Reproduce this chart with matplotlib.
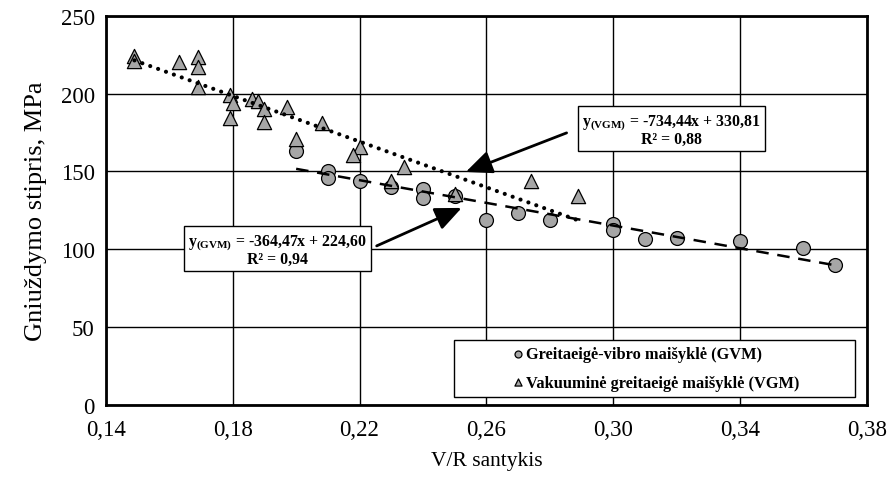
import matplotlib
matplotlib.use("Agg")
import matplotlib.pyplot as plt
from matplotlib.patches import Rectangle
import numpy as np

plt.rcParams['font.family'] = ['Liberation Serif', 'DejaVu Serif']
plt.rcParams['mathtext.fontset'] = 'custom'
plt.rcParams['mathtext.rm'] = 'Liberation Serif'
plt.rcParams['mathtext.bf'] = 'Liberation Serif:bold'
plt.rcParams['mathtext.it'] = 'Liberation Serif:italic'

# GVM data (circles)
gvm_x = [0.200, 0.210, 0.210, 0.220, 0.230, 0.240, 0.240, 0.250, 0.260, 0.270,
         0.280, 0.300, 0.300, 0.310, 0.320, 0.340, 0.360, 0.370]
gvm_y = [163.4, 150.6, 145.7, 144.2, 139.9, 138.8, 133.0, 134.1, 119.1, 123.2,
         118.9, 116.3, 112.5, 106.7, 107.3, 105.2, 100.9, 90.0]

# VGM data (triangles)
vgm_x = [0.149, 0.149, 0.163, 0.169, 0.169, 0.169, 0.179, 0.180, 0.179, 0.186,
         0.188, 0.190, 0.190, 0.197, 0.200, 0.208, 0.220, 0.218, 0.234, 0.230,
         0.250, 0.274, 0.289]
vgm_y = [224.3, 221.1, 220.2, 223.5, 217.0, 204.2, 199.2, 194.1, 184.4, 196.7,
         195.6, 190.2, 181.7, 191.3, 171.0, 181.2, 165.6, 160.7, 152.8, 144.2,
         135.6, 143.8, 134.5]

# trend-line coefficients shown in the chart
gvm_slope, gvm_icpt, gvm_r2 = -364.47, 224.60, 0.94
vgm_slope, vgm_icpt, vgm_r2 = -734.44, 330.81, 0.88

x_ticks = [0.14, 0.18, 0.22, 0.26, 0.30, 0.34, 0.38]
x_tick_labels = ["0,14", "0,18", "0,22", "0,26", "0,30", "0,34", "0,38"]
y_ticks = [0, 50, 100, 150, 200, 250]

legend_labels = ["Greitaeigė-vibro maišyklė (GVM)", "Vakuuminė greitaeigė maišyklė (VGM)"]

fig = plt.figure(figsize=(8.9, 4.81), dpi=100)
ax = fig.add_axes([0.119, 0.156, 0.855, 0.809])

ax.set_xlim(0.14, 0.38)
ax.set_ylim(0, 250)
ax.set_xticks(x_ticks)
ax.set_xticklabels(x_tick_labels)
ax.set_yticks(y_ticks)
ax.tick_params(length=0, labelsize=16.5)
ax.tick_params(axis='x', pad=10)
ax.tick_params(axis='y', pad=8)
ax.grid(True, color='black', lw=1.0)
ax.set_axisbelow(True)
for s in ax.spines.values():
    s.set_linewidth(2.0)

ax.set_xlabel("V/R santykis", fontsize=15.5, labelpad=8)
ax.set_ylabel("Gniuždymo stipris, MPa", fontsize=19, labelpad=10)

# trend lines
gx = np.array([min(gvm_x), max(gvm_x)])
ax.plot(gx, gvm_slope * gx + gvm_icpt, color='black', lw=1.8,
        linestyle=(0, (5, 3.5)), zorder=4)
vx = np.array([min(vgm_x), max(vgm_x)])
ax.plot(vx, vgm_slope * vx + vgm_icpt, color='black', lw=3.0,
        linestyle=(0, (0.01, 2.0)), dash_capstyle='round', zorder=4)

sc1 = ax.scatter(gvm_x, gvm_y, marker='o', s=100, facecolor='#a6a6a6',
                 edgecolor='black', linewidths=0.9, zorder=3)
sc2 = ax.scatter(vgm_x, vgm_y, marker='^', s=105, facecolor='#a6a6a6',
                 edgecolor='black', linewidths=0.9, zorder=3)

# annotation boxes
box = dict(boxstyle='square,pad=0.25', fc='white', ec='black', lw=1.0)
ax.text(0.1942, 99.6,
        r"$\mathbf{y}_{\mathbf{(GVM)}}$ = " + f"{gvm_slope:.2f}".replace('.', ',') + "x + "
        + f"{gvm_icpt:.2f}".replace('.', ',') + "\nR² = " + f"{gvm_r2:.2f}".replace('.', ','),
        ha='center', va='center', multialignment='center', fontsize=11.4,
        fontweight='bold', bbox=box, zorder=6, linespacing=0.95)
ax.text(0.3184, 176.7,
        r"$\mathbf{y}_{\mathbf{(VGM)}}$ = " + f"{vgm_slope:.2f}".replace('.', ',') + "x + "
        + f"{vgm_icpt:.2f}".replace('.', ',') + "\nR² = " + f"{vgm_r2:.2f}".replace('.', ','),
        ha='center', va='center', multialignment='center', fontsize=11.4,
        fontweight='bold', bbox=box, zorder=6, linespacing=0.95)

arrow = dict(arrowstyle='-|>,head_length=0.8,head_width=0.35', color='black',
             lw=2.0, mutation_scale=20, shrinkA=0, shrinkB=0)
ax.annotate("", xy=(0.2522, 126.6), xytext=(0.2254, 102.2), arrowprops=arrow, zorder=6)
ax.annotate("", xy=(0.2535, 149.7), xytext=(0.2853, 174.8), arrowprops=arrow, zorder=6)

# legend box
ax.add_patch(Rectangle((0.457, 0.021), 0.527, 0.146, transform=ax.transAxes,
                       fc='white', ec='black', lw=1.0, zorder=6))
leg = ax.legend([sc1, sc2], legend_labels, loc='center left',
                bbox_to_anchor=(0.52, 0.094), frameon=False, markerscale=0.5,
                prop={'weight': 'bold', 'size': 11.8}, handletextpad=0.0,
                handlelength=1.0, labelspacing=0.75, borderpad=0)
leg.set_zorder(7)

fig.savefig("out.png", dpi=100)
